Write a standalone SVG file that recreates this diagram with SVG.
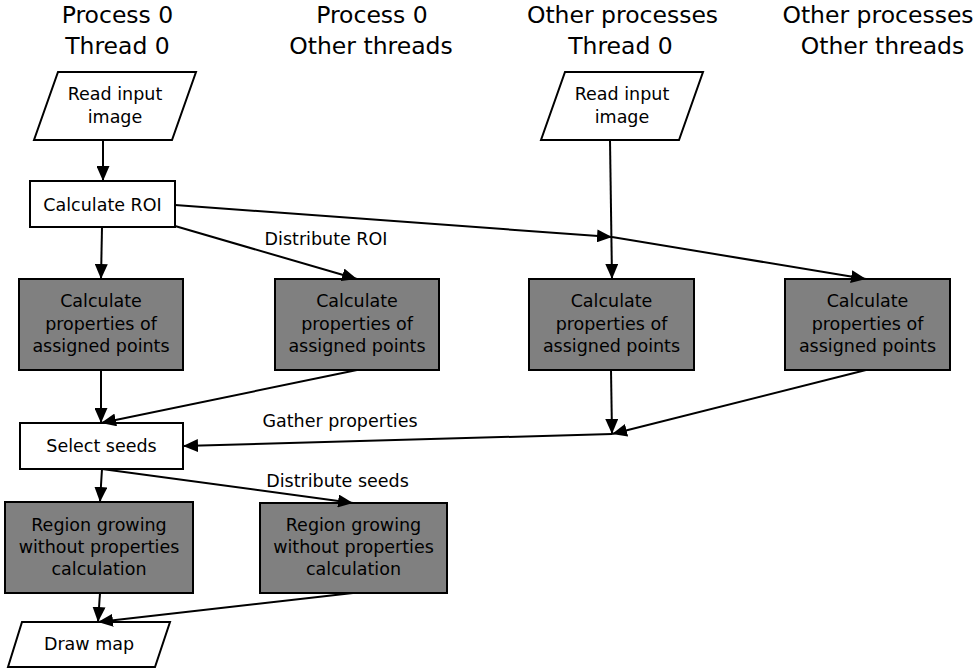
<svg xmlns="http://www.w3.org/2000/svg" width="977" height="671" viewBox="0 0 977 671">
<style>
text{font-family:"DejaVu Sans",sans-serif;fill:#000;text-anchor:middle}
.h{font-size:23.5px}
.t{font-size:17.5px}
.box{fill:#fff;stroke:#000;stroke-width:2}
.g{fill:#808080;stroke:#000;stroke-width:2}
.c{fill:none;stroke:#000;stroke-width:2;marker-end:url(#ah)}
</style>
<defs>
<marker id="ah" markerUnits="userSpaceOnUse" markerWidth="15" markerHeight="13" refX="15" refY="6.5" orient="auto">
<path d="M0,0 L15,6.5 L0,13 z" fill="#000"/>
</marker>
</defs>
<g id="headers">
<text class="h" x="117.5" y="23">Process 0</text>
<text class="h" x="117.5" y="54">Thread 0</text>
<text class="h" x="372" y="23">Process 0</text>
<text class="h" x="371" y="54">Other threads</text>
<text class="h" x="622.5" y="23">Other processes</text>
<text class="h" x="620.5" y="54">Thread 0</text>
<text class="h" x="878" y="23">Other processes</text>
<text class="h" x="882.5" y="54">Other threads</text>
</g>
<g id="read1">
<polygon class="box" points="58,72 196,72 172,140 34,140"/>
<text class="t" x="115" y="100">Read input</text>
<text class="t" x="115" y="123">image</text>
</g>
<g id="read2">
<polygon class="box" points="565,72 703,72 679,140 541,140"/>
<text class="t" x="622" y="100">Read input</text>
<text class="t" x="622" y="123">image</text>
</g>
<g id="roi">
<rect class="box" x="30" y="181" width="145" height="46"/>
<text class="t" x="102.5" y="211">Calculate ROI</text>
</g>
<g id="calc1">
<rect class="g" x="19" y="279" width="164" height="91"/>
<text class="t" x="101" y="307">Calculate</text>
<text class="t" x="101" y="330">properties of</text>
<text class="t" x="101" y="352">assigned points</text>
</g>
<g id="calc2">
<rect class="g" x="275" y="279" width="164" height="91"/>
<text class="t" x="357" y="307">Calculate</text>
<text class="t" x="357" y="330">properties of</text>
<text class="t" x="357" y="352">assigned points</text>
</g>
<g id="calc3">
<rect class="g" x="529" y="279" width="165" height="91"/>
<text class="t" x="611.5" y="307">Calculate</text>
<text class="t" x="611.5" y="330">properties of</text>
<text class="t" x="611.5" y="352">assigned points</text>
</g>
<g id="calc4">
<rect class="g" x="785" y="279" width="165" height="91"/>
<text class="t" x="867.5" y="307">Calculate</text>
<text class="t" x="867.5" y="330">properties of</text>
<text class="t" x="867.5" y="352">assigned points</text>
</g>
<g id="seeds">
<rect class="box" x="20" y="423" width="163" height="46"/>
<text class="t" x="101.5" y="452">Select seeds</text>
</g>
<g id="grow1">
<rect class="g" x="5" y="502" width="188" height="91"/>
<text class="t" x="99" y="531">Region growing</text>
<text class="t" x="99" y="553">without properties</text>
<text class="t" x="99" y="575">calculation</text>
</g>
<g id="grow2">
<rect class="g" x="260" y="503" width="187" height="90"/>
<text class="t" x="353.5" y="531">Region growing</text>
<text class="t" x="353.5" y="553">without properties</text>
<text class="t" x="353.5" y="575">calculation</text>
</g>
<g id="draw">
<polygon class="box" points="22,622 170,622 155,667 8,667"/>
<text class="t" x="89" y="650">Draw map</text>
</g>
<g id="connectors">
<path class="c" d="M103,140 L103,181"/>
<path class="c" d="M102,227 L101,279"/>
<path class="c" d="M175,226 L357,279"/>
<path class="c" d="M175,205 L612,237"/>
<path class="c" d="M612,237 L866,279"/>
<path class="c" d="M610,140 L612,279"/>
<path class="c" d="M101,370 L101,423"/>
<path class="c" d="M357,370 L101,423"/>
<path class="c" d="M611,370 L612,434"/>
<path class="c" d="M866,370 L612,434"/>
<path class="c" d="M612,434 L183,446"/>
<path class="c" d="M102,469 L100,502"/>
<path class="c" d="M102,469 L353,503"/>
<path class="c" d="M100,593 L98,622"/>
<path class="c" d="M353,593 L98,622"/>
<text class="t" x="326" y="245">Distribute ROI</text>
<text class="t" x="340" y="427">Gather properties</text>
<text class="t" x="337.5" y="487">Distribute seeds</text>
</g>
</svg>
